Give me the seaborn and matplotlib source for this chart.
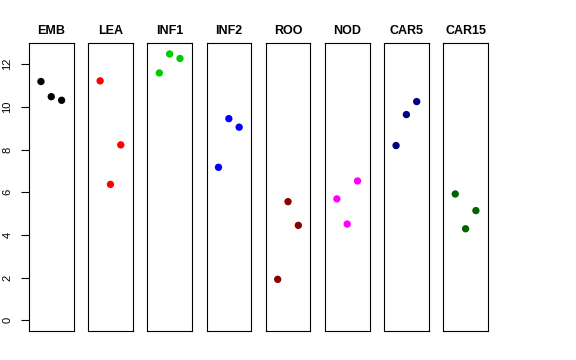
import numpy as np
import pandas as pd
import matplotlib
matplotlib.use("Agg")
import matplotlib.pyplot as plt
import seaborn as sns

# --- Data ---
tissues = ["EMB", "LEA", "INF1", "INF2", "ROO", "NOD", "CAR5", "CAR15"]
replicate = [1, 2, 3]
emb = [11.19, 10.48, 10.31]
lea = [11.22, 6.37, 8.22]
inf1 = [11.59, 12.48, 12.27]
inf2 = [7.17, 9.45, 9.05]
roo = [1.92, 5.56, 4.45]
nod = [5.69, 4.51, 6.53]
car5 = [8.19, 9.64, 10.25]
car15 = [5.92, 4.29, 5.14]
colours = ["#000000", "#FF0000", "#00CD00", "#0000FF",
           "#8B0000", "#FF00FF", "#000080", "#006400"]

values = [emb, lea, inf1, inf2, roo, nod, car5, car15]
df = pd.DataFrame({
    "tissue": np.repeat(tissues, len(replicate)),
    "rep": replicate * len(tissues),
    "expr": np.concatenate(values),
})

sns.set_theme(style="white")
plt.rcParams["font.family"] = ["Liberation Sans", "DejaVu Sans"]
plt.rcParams["text.color"] = "black"
plt.rcParams["axes.labelcolor"] = "black"
plt.rcParams["ytick.color"] = "black"

fig, axes = plt.subplots(1, len(tissues), figsize=(5.76, 3.6), dpi=100, sharey=True)
fig.subplots_adjust(left=0.0503, right=0.847, bottom=0.0806, top=0.8797, wspace=0.327)

for ax, t, col in zip(axes, tissues, colours):
    sub = df[df["tissue"] == t]
    sns.scatterplot(data=sub, x="rep", y="expr", color=col, s=28,
                    edgecolor="none", ax=ax, legend=False)
    ax.set_xlim(-0.16, 4.16)
    ax.set_ylim(-0.5, 12.98)
    ax.set_xticks([])
    ax.set_xlabel("")
    ax.set_ylabel("")
    ax.set_title(t, fontsize=9, fontweight="bold", pad=7, color="black")
    for sp in ax.spines.values():
        sp.set_visible(True)
        sp.set_color("black")
        sp.set_linewidth(0.8)
    ax.tick_params(axis="y", left=False, labelleft=False)

axes[0].set_yticks(range(0, 13, 2))
axes[0].tick_params(axis="y", left=True, labelleft=True, length=6, width=0.8,
                    color="black", labelcolor="black", labelsize=8, pad=6)
for lab in axes[0].get_yticklabels():
    lab.set_rotation(90)
    lab.set_va("center")

fig.savefig("out.png", dpi=100)
